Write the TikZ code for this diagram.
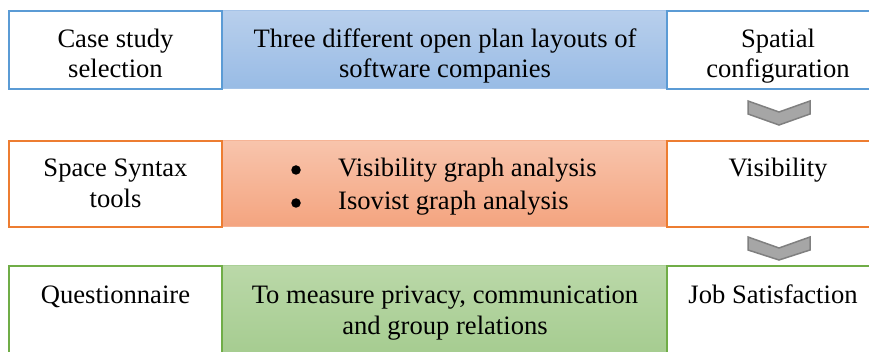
\documentclass[tikz,border=0pt]{standalone}
\usepackage{fontspec}
\setmainfont{Liberation Serif}
\newfontfamily\timesf{Liberation Serif}
\definecolor{bl}{HTML}{5B9BD5}
\definecolor{blT}{RGB}{184,207,236}
\definecolor{blB}{RGB}{152,187,229}
\definecolor{blL}{RGB}{165,195,232}
\definecolor{orn}{HTML}{ED7D31}
\definecolor{orT}{RGB}{248,196,172}
\definecolor{orB}{RGB}{244,164,127}
\definecolor{orL}{RGB}{246,180,150}
\definecolor{grn}{HTML}{70AD47}
\definecolor{grT}{RGB}{186,216,168}
\definecolor{grB}{RGB}{162,202,140}
\definecolor{grL}{RGB}{170,208,150}
\definecolor{chevF}{RGB}{166,166,166}
\definecolor{chevD}{RGB}{128,128,128}
\begin{document}
\begin{tikzpicture}[x=1pt,y=-1pt,
  wbox/.style={draw=#1, line width=2.5pt, fill=white, rectangle, inner sep=0pt},
  gbox/.style={rectangle, inner sep=0pt, line width=1pt},
  txt/.style={font=\timesf\fontsize{26.6}{30}\selectfont, inner sep=0pt, anchor=base},
  bul/.style={circle, fill=black, inner sep=0pt, minimum size=9.5pt},
  chev/.style={fill=chevF, draw=chevD, line width=1.5pt, line join=miter}]
\useasboundingbox (0,0) rectangle (869,352);
\clip (0,0) rectangle (869,352);
% row 1
\node[gbox, draw=blL, top color=blT, bottom color=blB, minimum width=445pt, minimum height=78pt] (m1) at (444.5,50) {};
\node[wbox=bl, minimum width=213pt, minimum height=78pt] (l1) at (115.5,50) {};
\node[wbox=bl, minimum width=223pt, minimum height=78pt] (r1) at (778.5,50) {};
% row 2
\node[gbox, draw=orL, top color=orT, bottom color=orB, minimum width=445pt, minimum height=86pt] (m2) at (444.5,184) {};
\node[wbox=orn, minimum width=213pt, minimum height=86pt] (l2) at (115.5,184) {};
\node[wbox=orn, minimum width=223pt, minimum height=86pt] (r2) at (778.5,184) {};
% row 3
\node[gbox, draw=grL, top color=grT, bottom color=grB, minimum width=445pt, minimum height=104pt] (m3) at (444.5,318) {};
\node[wbox=grn, minimum width=213pt, minimum height=104pt] (l3) at (115.5,318) {};
\node[wbox=grn, minimum width=223pt, minimum height=104pt] (r3) at (778.5,318) {};
% texts row 1
\node[txt] (l1a) at (115.5,48) {Case study};
\node[txt] (l1b) at (115.5,78) {selection};
\node[txt] (m1a) at (445,48) {Three different open plan layouts of};
\node[txt] (m1b) at (445,78) {software companies};
\node[txt] (r1a) at (778,48) {Spatial};
\node[txt] (r1b) at (778,78) {configuration};
% texts row 2
\node[txt] (l2a) at (115.5,177) {Space Syntax};
\node[txt] (l2b) at (115.5,208) {tools};
\node[bul] (b1) at (296,170) {};
\node[bul] (b2) at (296,203) {};
\node[txt, anchor=base west] (m2a) at (338,177) {Visibility graph analysis};
\node[txt, anchor=base west] (m2b) at (338,210) {Isovist graph analysis};
\node[txt] (r2a) at (778,177) {Visibility};
% texts row 3
\node[txt] (l3a) at (115.5,303) {Questionnaire};
\node[txt] (m3a) at (445,303) {To measure privacy, communication};
\node[txt] (m3b) at (445,334) {and group relations};
\node[txt] (r3a) at (773,303) {Job Satisfaction};
% chevrons
\draw[chev] (748,101) -- (779,112) -- (810,101) -- (810,114) -- (779,125) -- (748,114) -- cycle;
\draw[chev] (748,237) -- (779,248) -- (810,237) -- (810,250) -- (779,260) -- (748,250) -- cycle;
\end{tikzpicture}
\end{document}
